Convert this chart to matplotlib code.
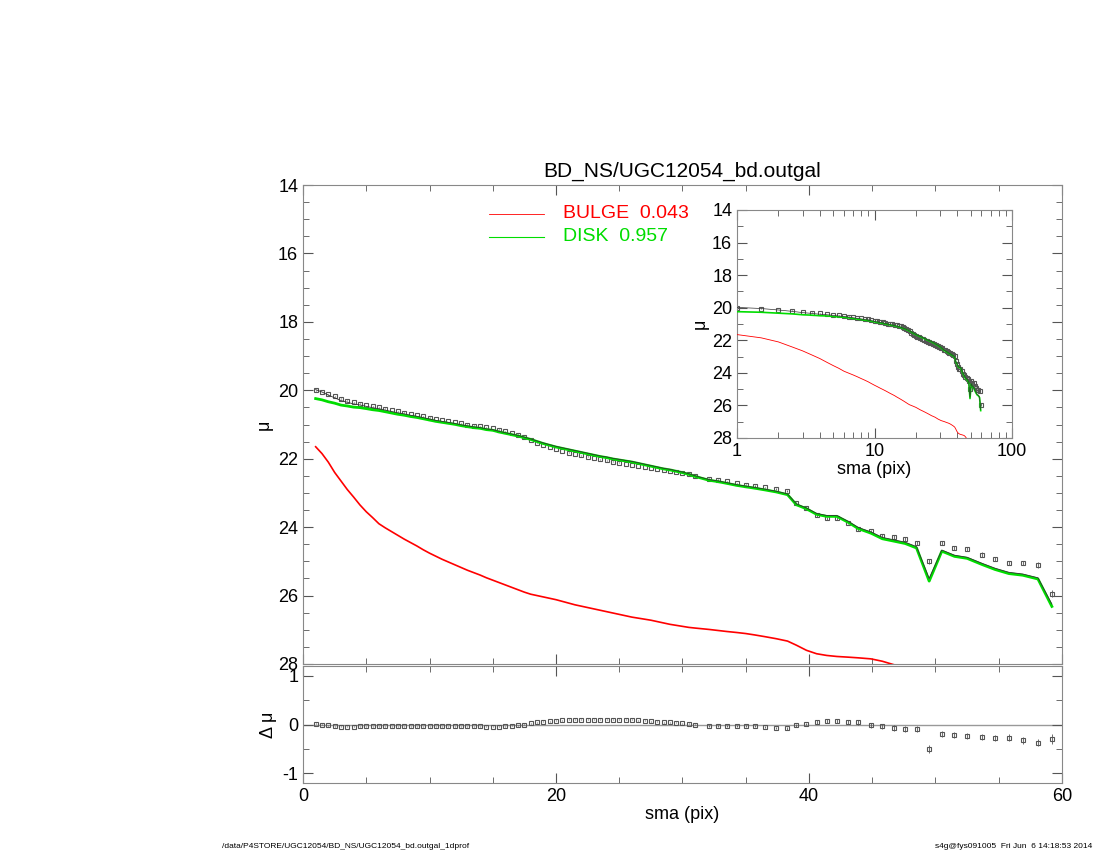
import numpy as np
import matplotlib as mpl
mpl.use('Agg')
import matplotlib.pyplot as plt

plt.rcParams['font.family'] = ['Liberation Sans', 'DejaVu Sans']

# inner profile, sma 1..31 step 0.5
sma_in = [1.0, 1.5, 2.0, 2.5, 3.0, 3.5, 4.0, 4.5, 5.0, 5.5, 6.0, 6.5, 7.0, 7.5, 8.0,
          8.5, 9.0, 9.5, 10.0, 10.5, 11.0, 11.5, 12.0, 12.5, 13.0, 13.5, 14.0, 14.5,
          15.0, 15.5, 16.0, 16.5, 17.0, 17.5, 18.0, 18.5, 19.0, 19.5, 20.0, 20.5,
          21.0, 21.5, 22.0, 22.5, 23.0, 23.5, 24.0, 24.5, 25.0, 25.5, 26.0, 26.5,
          27.0, 27.5, 28.0, 28.5, 29.0, 29.5, 30.0, 30.5, 31.0]
mu_in = [20.00, 20.05, 20.12, 20.18, 20.25, 20.30, 20.35, 20.39, 20.43, 20.47, 20.50,
         20.54, 20.58, 20.62, 20.65, 20.69, 20.72, 20.76, 20.80, 20.84, 20.87, 20.90,
         20.93, 20.97, 21.00, 21.03, 21.05, 21.08, 21.10, 21.15, 21.20, 21.25, 21.30,
         21.37, 21.45, 21.53, 21.60, 21.66, 21.72, 21.77, 21.82, 21.86, 21.90, 21.94,
         21.98, 22.02, 22.05, 22.09, 22.12, 22.15, 22.18, 22.21, 22.24, 22.27, 22.30,
         22.33, 22.36, 22.39, 22.42, 22.46, 22.50]
res_in = [0.02, 0.0, -0.02, -0.04, -0.05, -0.05, -0.05] + [-0.04] * 20 + \
         [-0.05, -0.05, -0.05, -0.04, -0.03, -0.02, 0.0, 0.03, 0.05, 0.06, 0.07, 0.08,
          0.09] + [0.10] * 11 + [0.09, 0.08, 0.07, 0.06, 0.05, 0.05, 0.04, 0.03, 0.02, 0.0]
bulge_in = [21.65, 21.85, 22.10, 22.40, 22.65, 22.90, 23.12, 23.35, 23.55, 23.72, 23.90,
            24.02, 24.13, 24.24, 24.35, 24.45, 24.55, 24.66, 24.76, 24.85, 24.94, 25.02,
            25.10, 25.18, 25.26, 25.33, 25.40, 25.48, 25.55, 25.62, 25.69, 25.76, 25.83,
            25.90, 25.96, 26.00, 26.04, 26.08, 26.12, 26.17, 26.22, 26.27, 26.31, 26.35,
            26.39, 26.43, 26.47, 26.51, 26.55, 26.59, 26.63, 26.66, 26.69, 26.72, 26.76,
            26.80, 26.84, 26.87, 26.90, 26.93, 26.95]

# outer profile
sma_out = [32.1, 32.8, 33.5, 34.3, 35.0, 35.7, 36.5, 37.4, 38.3, 39.0, 39.8, 40.6, 41.4,
           42.2, 43.1, 43.9, 44.9, 45.8, 46.7, 47.6, 48.5, 49.5, 50.5, 51.5, 52.5, 53.7,
           54.7, 55.8, 56.9, 58.1, 59.2]
mu_out = [22.58, 22.62, 22.66, 22.72, 22.76, 22.80, 22.84, 22.88, 22.95, 23.30, 23.45,
          23.65, 23.74, 23.74, 23.88, 24.06, 24.12, 24.26, 24.30, 24.35, 24.47, 25.00,
          24.47, 24.60, 24.65, 24.80, 24.93, 25.05, 25.05, 25.11, 25.95]
res_out = [-0.03, -0.03, -0.04, -0.04, -0.04, -0.04, -0.05, -0.07, -0.08, -0.02, 0.01,
           0.05, 0.08, 0.08, 0.05, 0.05, -0.02, -0.04, -0.07, -0.09, -0.10, -0.50, -0.20,
           -0.22, -0.23, -0.26, -0.27, -0.27, -0.32, -0.37, -0.30]
bulge_out = [26.99, 27.02, 27.05, 27.08, 27.11, 27.15, 27.20, 27.26, 27.33, 27.45, 27.60,
             27.70, 27.75, 27.78, 27.80, 27.82, 27.85, 27.92, 28.02, 28.10, 28.20, 28.40,
             28.50, 28.60, 28.70, 28.80, 28.90, 29.00, 29.10, 29.20, 29.30]
err_out = [0.02, 0.02, 0.02, 0.02, 0.02, 0.02, 0.02, 0.02, 0.03, 0.03, 0.03, 0.04, 0.04,
           0.04, 0.04, 0.05, 0.05, 0.05, 0.06, 0.06, 0.06, 0.08, 0.06, 0.06, 0.06, 0.06,
           0.06, 0.07, 0.07, 0.08, 0.10]

sma = np.array(sma_in + sma_out)
mu = np.array(mu_in + mu_out)
res = np.array(res_in + res_out)
bulge = np.array(bulge_in + bulge_out)
err = np.array([0.01] * len(sma_in) + err_out)

total = mu - res
disk = -2.5 * np.log10(10 ** (-0.4 * total) - 10 ** (-0.4 * bulge))

GRAY = '#555555'
GREEN = '#00dd00'

fig = plt.figure(figsize=(11, 8.5), dpi=100)
W, H = 1100., 850.


def axes_px(l, t, r, b):
    return fig.add_axes([l / W, 1 - b / H, (r - l) / W, (b - t) / H])


def style(ax, size=13):
    ax.tick_params(direction='in', which='both', top=True, right=True,
                   labelsize=size, color='#555555')
    ax.tick_params(which='major', length=7)
    ax.tick_params(which='minor', length=4)
    for s in ax.spines.values():
        s.set_color('#888888')


ax = axes_px(303, 185, 1062, 664)
ax.errorbar(sma, mu, yerr=err, fmt='s', ms=3, mfc='none', mec=GRAY, mew=0.8,
            ecolor=GRAY, elinewidth=0.6, zorder=2)
ax.plot(sma, disk, color=GREEN, lw=2, zorder=3)
ax.plot(sma, total, color='#333333', lw=0.6, zorder=4)
ax.plot(sma, bulge, color='red', lw=1.2, zorder=3)
ax.set_xlim(0, 60)
ax.set_ylim(28, 14)
ax.set_yticks([14, 16, 18, 20, 22, 24, 26, 28])
ax.set_xticks([0, 20, 40, 60])
ax.set_xticks(np.arange(0, 61, 5), minor=True)
ax.set_yticks(np.arange(14, 28.1, 0.5), minor=True)
ax.set_xticklabels([])
ax.set_ylabel('μ', fontsize=13)
ax.set_title('BD_NS/UGC12054_bd.outgal', fontsize=15, pad=6)
style(ax)

# legend
ax.plot([0.245, 0.318], [0.94, 0.94], transform=ax.transAxes, color='red', lw=0.6)
ax.plot([0.245, 0.318], [0.892, 0.892], transform=ax.transAxes, color=GREEN, lw=0.8)
ax.text(0.342, 0.94, 'BULGE  0.043', transform=ax.transAxes, color='red',
        fontsize=14, va='center')
ax.text(0.342, 0.892, 'DISK  0.957', transform=ax.transAxes, color=GREEN,
        fontsize=14, va='center')

# inset
ai = axes_px(737, 210, 1012, 438)
ai.errorbar(sma, mu, yerr=err, fmt='s', ms=3, mfc='none', mec=GRAY, mew=0.8,
            ecolor=GRAY, elinewidth=0.6, zorder=2)
ai.plot(sma, disk, color=GREEN, lw=1.2, zorder=3)
ai.plot(sma, total, color='#333333', lw=0.5, zorder=4)
ai.plot(sma, bulge, color='red', lw=0.6, zorder=3)
ai.set_xscale('log')
ai.set_xlim(1, 100)
ai.set_ylim(28, 14)
ai.set_yticks([14, 16, 18, 20, 22, 24, 26, 28])
ai.set_yticks(np.arange(14, 28.1, 1), minor=True)
ai.set_xticks([1, 10, 100])
ai.set_xticklabels(['1', '10', '100'])
ai.set_xlabel('sma (pix)', fontsize=13, labelpad=1)
ai.set_ylabel('μ', fontsize=13, labelpad=2)
style(ai)

# residuals
ar = axes_px(303, 666, 1062, 783)
ar.errorbar(sma, res, yerr=err, fmt='s', ms=3, mfc='none', mec=GRAY, mew=0.8,
            ecolor=GRAY, elinewidth=0.6, zorder=2)
ar.axhline(0, color='#999999', lw=1, zorder=1)
ar.set_xlim(0, 60)
ar.set_ylim(-1.2, 1.2)
ar.set_yticks([-1, 0, 1])
ar.set_yticklabels(['-1', '0', '1'])
ar.set_xticks([0, 20, 40, 60])
ar.set_xticks(np.arange(0, 61, 5), minor=True)
ar.set_yticks(np.arange(-1, 1.01, 0.5), minor=True)
ar.set_xlabel('sma (pix)', fontsize=13, labelpad=1)
ar.set_ylabel('Δ μ', fontsize=13)
style(ar)

fig.text(222 / W, 1 - 848 / H, '/data/P4STORE/UGC12054/BD_NS/UGC12054_bd.outgal_1dprof',
         fontsize=6)
fig.text(1092 / W, 1 - 848 / H, 's4g@fys091005  Fri Jun  6 14:18:53 2014',
         fontsize=6, ha='right')

fig.savefig('out.png', dpi=100)
